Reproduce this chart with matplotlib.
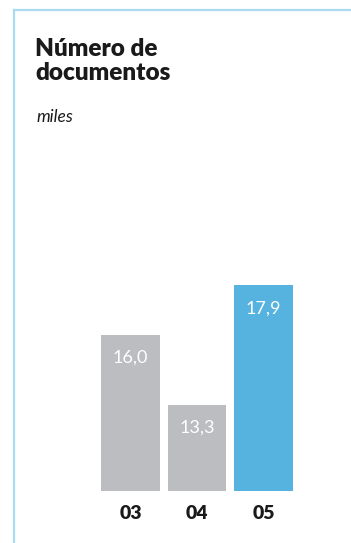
import matplotlib.pyplot as plt
from matplotlib.lines import Line2D

years = ['03', '04', '05']
values = [16.0, 13.3, 17.9]
labels = ['16,0', '13,3', '17,9']
colors = ['#bcbdc1', '#bcbdc1', '#56b2de']

W, H = 351, 543
fig = plt.figure(figsize=(W / 100, H / 100), dpi=100)
plt.rcParams['font.family'] = ['Lato', 'DejaVu Sans']

# light blue frame (top and left edge)
fig.add_artist(Line2D([14 / W, 14 / W], [0, 1 - 10 / H], color='#a9dcef', lw=1.6))
fig.add_artist(Line2D([14 / W, 1], [1 - 10 / H, 1 - 10 / H], color='#a9dcef', lw=1.6))

fig.text(35 / W, 1 - 38 / H, 'Número de\ndocumentos', fontsize=17.5, fontweight='heavy',
         color='#1a1a1a', va='top', linespacing=1.12)
fig.text(36 / W, 1 - 117 / H, 'miles', fontsize=12.5, style='italic', color='#1a1a1a',
         va='center')

ax = fig.add_axes([101 / W, (H - 491) / H, 192 / W, 263 / H])
x = list(range(len(years)))
bars = ax.bar(x, [v - 10 for v in values], bottom=10, width=0.887, color=colors)
for xi, v, lab in zip(x, values, labels):
    ax.annotate(lab, (xi, v), xytext=(0, -23), textcoords='offset pixels',
                ha='center', va='center', color='white', fontsize=13)
ax.set_xlim(-0.4435, 2.4435)
ax.set_ylim(10, 20.1)
ax.set_xticks(x)
ax.set_xticklabels(years, fontsize=14, fontweight='heavy', color='#1a1a1a')
ax.tick_params(length=0, pad=10)
ax.set_yticks([])
for s in ax.spines.values():
    s.set_visible(False)

fig.savefig('out.png', dpi=100)
